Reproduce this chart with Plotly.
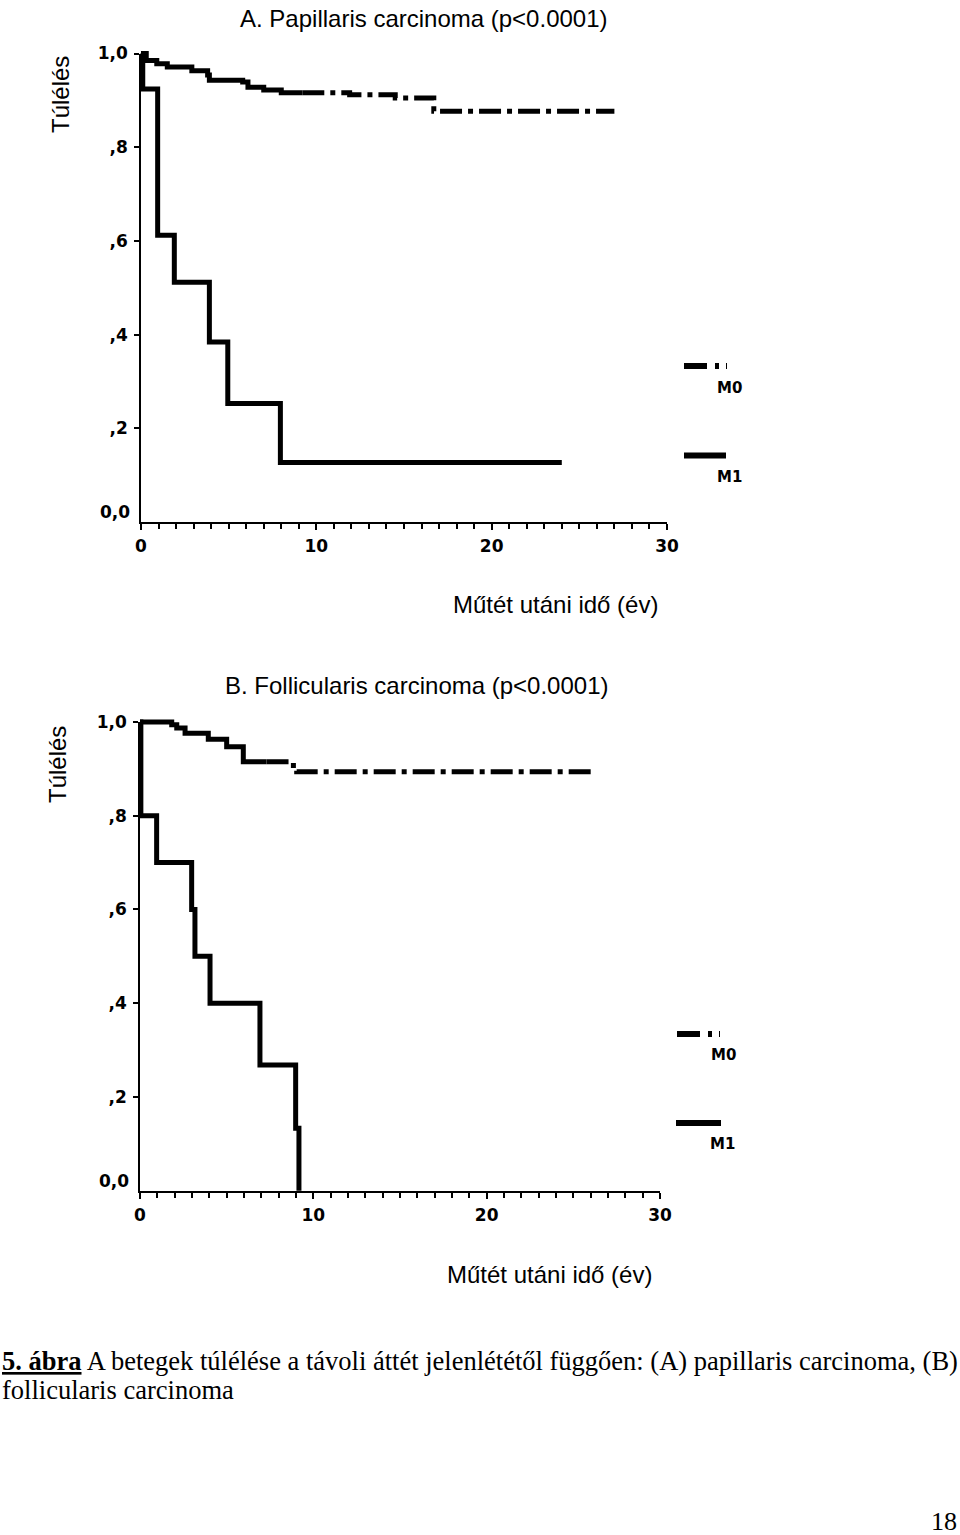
import plotly.graph_objects as go

W, H = 960, 1535

# ---------------- data ----------------
# Panel A: Papillaris carcinoma
a_m0_t = [0, 0.3, 0.9, 1.5, 2.9, 3.8, 3.9, 5.8, 6.1, 7.0, 8.0, 11.9, 14.5, 16.7, 27.0]
a_m0_s = [1.0, 0.985, 0.978, 0.971, 0.963, 0.954, 0.943, 0.939, 0.928, 0.922, 0.916, 0.912, 0.905, 0.877, 0.877]
a_m1_t = [0, 0.1, 0.95, 1.9, 3.9, 4.95, 7.95, 24.0]
a_m1_s = [1.0, 0.924, 0.612, 0.512, 0.384, 0.253, 0.127, 0.127]

# Panel B: Follicularis carcinoma
b_m0_t = [0, 1.83, 2.12, 2.6, 3.94, 5.0, 5.96, 8.85, 9.04, 26.1]
b_m0_s = [1.0, 0.994, 0.987, 0.976, 0.963, 0.947, 0.915, 0.901, 0.894, 0.894]
b_m1_t = [0, 0.05, 0.96, 2.98, 3.17, 4.04, 6.92, 8.98, 9.17]
b_m1_s = [1.0, 0.80, 0.70, 0.60, 0.50, 0.40, 0.268, 0.133, 0.0]

titles = ["A. Papillaris carcinoma (p<0.0001)", "B. Follicularis carcinoma (p<0.0001)"]
y_title = "Túlélés"
x_title = "Műtét utáni idő (év)"
x_tickvals = [0, 10, 20, 30]
x_ticktext = ["0", "10", "20", "30"]
y_tickvals = [0.2, 0.4, 0.6, 0.8, 1.0]
y_ticktext = [",2", ",4", ",6", ",8", "1,0"]
zero_label = "0,0"
legend_labels = ["M0", "M1"]
caption1 = "<b><u>5. ábra</u></b> A betegek túlélése a távoli áttét jelenlététől függően: (A) papillaris carcinoma, (B)"
caption2 = "follicularis carcinoma"
page_no = "18"

# ---------------- layout geometry (pixels) ----------------
panels = [
    dict(x0=141, x30=667, y0=522, y1=53.5, solid_until=9.2,
         title=(424, 18), ytitle=(60, 95), xtitle=(555, 605),
         leg_m0=(684, 727, 366), leg_m1=(684, 726, 455.5), lab_m0=(729, 388), lab_m1=(729, 477)),
    dict(x0=140, x30=660, y0=1190.7, y1=722, solid_until=7.3,
         title=(417, 685), ytitle=(57, 765), xtitle=(549, 1274),
         leg_m0=(677, 720, 1034), leg_m1=(676, 721, 1123), lab_m0=(723, 1055), lab_m1=(722, 1143.5)),
]
data_sets = [(a_m0_t, a_m0_s, a_m1_t, a_m1_s), (b_m0_t, b_m0_s, b_m1_t, b_m1_s)]

X_RANGE_DATA = [-1, 31]
Y_RANGE_DATA = [-0.05, 1.05]
LW = 5
DASH = "22px,6px,5px,6px"
TICKFONT = dict(family="DejaVu Sans", size=17, color="black", weight="bold")
SANS = "Liberation Sans, Arial, sans-serif"
SERIF = "Liberation Serif, Times New Roman, serif"


def px(xp):
    return xp / W


def py(yp):
    return 1 - yp / H


def split(t, s, cut):
    idx = max(i for i in range(len(t)) if t[i] <= cut)
    lvl = s[idx]
    t1 = [v for v in t if v < cut] + [cut]
    s1 = [s[i] for i in range(len(t)) if t[i] < cut] + [lvl]
    t2 = [cut] + [v for v in t if v > cut]
    s2 = [lvl] + [s[i] for i in range(len(t)) if t[i] > cut]
    return (t1, s1), (t2, s2)


fig = go.Figure()
layout = dict(width=W, height=H, margin=dict(l=0, r=0, t=0, b=0),
              paper_bgcolor="white", plot_bgcolor="rgba(0,0,0,0)", showlegend=False)
annotations = []
shapes = []

for k, (p, ds) in enumerate(zip(panels, data_sets)):
    disp = 2 * k + 1
    data = 2 * k + 2
    dx = "" if disp == 1 else str(disp)
    sx = (p["x30"] - p["x0"]) / 30.0
    sy = (p["y0"] - p["y1"]) / 1.0

    # display axes (axis lines, ticks, labels)
    layout["xaxis" + dx] = dict(
        domain=[px(p["x0"]), px(p["x30"])], range=[0, 30], anchor="y" + dx,
        showline=True, linecolor="black", linewidth=2, mirror=False,
        showgrid=False, zeroline=False, automargin=False,
        ticks="outside", ticklen=6, tickwidth=2, tickcolor="black",
        tickvals=x_tickvals, ticktext=x_ticktext, tickfont=TICKFONT, ticklabelstandoff=2,
        minor=dict(dtick=1, ticks="outside", ticklen=5, tickwidth=1.5, tickcolor="black", showgrid=False),
    )
    layout["yaxis" + dx] = dict(
        domain=[py(p["y0"]), py(p["y1"])], range=[0, 1], anchor="x" + dx,
        showline=True, linecolor="black", linewidth=1.5,
        showgrid=False, zeroline=False, automargin=False,
        ticks="outside", ticklen=5, tickwidth=2, tickcolor="black",
        tickvals=y_tickvals, ticktext=y_ticktext, tickfont=TICKFONT, ticklabelstandoff=3,
    )
    fig.add_trace(go.Scatter(x=[], y=[], xaxis="x" + dx, yaxis="y" + dx, hoverinfo="skip"))

    # data axes (invisible, same pixel scale, wider range so thick lines are not clipped)
    left = p["x0"] + X_RANGE_DATA[0] * sx
    right = p["x0"] + X_RANGE_DATA[1] * sx
    bottom = p["y0"] - Y_RANGE_DATA[0] * sy
    top = p["y0"] - Y_RANGE_DATA[1] * sy
    dd = str(data)
    layout["xaxis" + dd] = dict(domain=[px(left), px(right)], range=X_RANGE_DATA,
                                anchor="y" + dd, visible=False, automargin=False)
    layout["yaxis" + dd] = dict(domain=[py(bottom), py(top)], range=Y_RANGE_DATA,
                                anchor="x" + dd, visible=False, automargin=False)

    m0_t, m0_s, m1_t, m1_s = ds
    (t1, s1), (t2, s2) = split(m0_t, m0_s, p["solid_until"])
    fig.add_trace(go.Scatter(x=m1_t, y=m1_s, mode="lines", line=dict(color="black", width=LW, shape="hv"),
                             xaxis="x" + dd, yaxis="y" + dd, name="M1"))
    fig.add_trace(go.Scatter(x=t1, y=s1, mode="lines", line=dict(color="black", width=LW, shape="hv"),
                             xaxis="x" + dd, yaxis="y" + dd, name="M0"))
    fig.add_trace(go.Scatter(x=t2, y=s2, mode="lines",
                             line=dict(color="black", width=LW, shape="hv", dash=DASH),
                             xaxis="x" + dd, yaxis="y" + dd, name="M0"))

    # "0,0" label (drawn slightly above the axis as in the original)
    annotations.append(dict(text=zero_label, xref="paper", yref="y" + dx, x=px(p["x0"] - 9), y=0,
                            yshift=10, xanchor="right", yanchor="middle", showarrow=False, font=TICKFONT))

    # titles
    annotations.append(dict(text=titles[k], xref="paper", yref="paper", x=px(p["title"][0]), y=py(p["title"][1]),
                            xanchor="center", yanchor="middle", showarrow=False,
                            font=dict(family=SANS, size=24, color="black")))
    annotations.append(dict(text=y_title, xref="paper", yref="paper", x=px(p["ytitle"][0]), y=py(p["ytitle"][1]),
                            xanchor="center", yanchor="middle", showarrow=False, textangle=-90,
                            font=dict(family=SANS, size=24, color="black")))
    annotations.append(dict(text=x_title, xref="paper", yref="paper", x=px(p["xtitle"][0]), y=py(p["xtitle"][1]),
                            xanchor="center", yanchor="middle", showarrow=False,
                            font=dict(family=SANS, size=24, color="black")))

    # legend
    x_a, x_b, yl = p["leg_m0"]
    shapes.append(dict(type="line", xref="paper", yref="paper", x0=px(x_a), x1=px(x_b), y0=py(yl), y1=py(yl),
                       line=dict(color="black", width=6, dash="23px,8px,4px,7px")))
    x_a, x_b, yl = p["leg_m1"]
    shapes.append(dict(type="line", xref="paper", yref="paper", x0=px(x_a), x1=px(x_b), y0=py(yl), y1=py(yl),
                       line=dict(color="black", width=6)))
    for lab, pos in zip(legend_labels, [p["lab_m0"], p["lab_m1"]]):
        annotations.append(dict(text=lab, xref="paper", yref="paper", x=px(pos[0]), y=py(pos[1]),
                                xanchor="center", yanchor="middle", showarrow=False,
                                font=dict(family="DejaVu Sans", size=15, color="black", weight="bold")))

# caption & page number
annotations.append(dict(text=caption1, xref="paper", yref="paper", x=0, y=py(1361), xanchor="left",
                        yanchor="middle", showarrow=False, font=dict(family=SERIF, size=26.5, color="black")))
annotations.append(dict(text=caption2, xref="paper", yref="paper", x=0, y=py(1390), xanchor="left",
                        yanchor="middle", showarrow=False, font=dict(family=SERIF, size=26.5, color="black")))
annotations.append(dict(text=page_no, xref="paper", yref="paper", x=px(959), y=py(1521), xanchor="right",
                        yanchor="middle", showarrow=False, font=dict(family=SERIF, size=26, color="black")))

layout["annotations"] = annotations
layout["shapes"] = shapes
fig.update_layout(**layout)

POST = ("document.documentElement.style.margin='0';document.documentElement.style.padding='0';"
        "document.documentElement.style.overflow='hidden';"
        "document.body.style.margin='0';document.body.style.padding='0';document.body.style.overflow='hidden';"
        "var gd=document.getElementById('{plot_id}');gd.style.position='absolute';"
        "gd.style.left='0px';gd.style.top='0px';")
fig.write_html("out.html", config={"displayModeBar": False}, post_script=POST)
